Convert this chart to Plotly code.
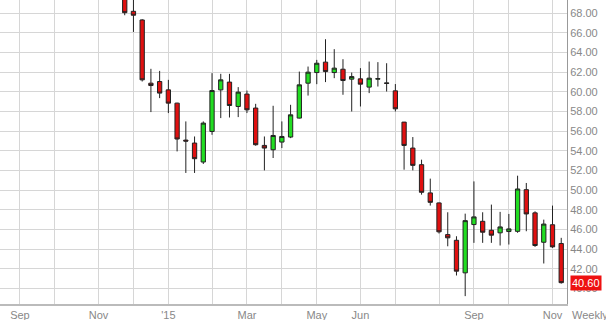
import plotly.graph_objects as go

weeks = [
    "2014-11-24", "2014-12-01", "2014-12-08", "2014-12-15", "2014-12-22", "2014-12-29",
    "2015-01-05", "2015-01-12", "2015-01-19", "2015-01-26", "2015-02-02", "2015-02-09",
    "2015-02-16", "2015-02-23", "2015-03-02", "2015-03-09", "2015-03-16", "2015-03-23",
    "2015-03-30", "2015-04-06", "2015-04-13", "2015-04-20", "2015-04-27", "2015-05-04",
    "2015-05-11", "2015-05-18", "2015-05-25", "2015-06-01", "2015-06-08", "2015-06-15",
    "2015-06-22", "2015-06-29", "2015-07-06", "2015-07-13", "2015-07-20", "2015-07-27",
    "2015-08-03", "2015-08-10", "2015-08-17", "2015-08-24", "2015-08-31", "2015-09-07",
    "2015-09-14", "2015-09-21", "2015-09-28", "2015-10-05", "2015-10-12", "2015-10-19",
    "2015-10-26", "2015-11-02", "2015-11-09",
]
open_ = [75.8, 68.2, 67.32, 60.89, 61.06, 60.21, 58.86, 55.1, 54.8, 52.87, 55.98, 60.21,
         61.0, 58.52, 59.78, 58.36, 54.56, 54.12, 54.9, 55.41, 57.34, 60.89, 61.97, 63.03,
         61.97, 62.31, 61.3, 61.33, 60.49, 61.3, 60.92, 60.11, 56.93, 54.29, 52.6, 49.73,
         48.71, 45.49, 44.91, 41.6, 46.51, 46.84, 45.93, 45.67, 45.8, 45.82, 50.06, 47.7,
         44.71, 46.49, 44.58]
high = [76.2, 70.2, 67.4, 62.35, 62.14, 61.23, 58.9, 57.0, 55.47, 57.0, 61.91, 61.84,
        61.84, 60.49, 60.14, 58.79, 55.47, 58.59, 57.0, 58.69, 62.07, 62.58, 63.26, 65.36,
        64.35, 63.33, 61.97, 62.42, 63.09, 63.03, 62.92, 60.8, 56.95, 55.41, 53.11, 51.18,
        48.75, 47.76, 45.32, 47.62, 50.9, 47.76, 48.54, 47.8, 47.59, 51.48, 50.74, 47.86,
        47.01, 48.44, 45.16]
low = [67.8, 66.1, 61.06, 57.95, 59.37, 57.85, 53.95, 51.76, 51.76, 52.67, 55.64, 57.34,
       57.4, 57.44, 57.85, 54.53, 52.02, 53.28, 54.29, 55.3, 57.3, 59.63, 60.79, 61.0,
       61.4, 59.71, 58.01, 58.52, 59.88, 60.55, 60.04, 58.01, 52.09, 52.02, 49.55, 48.44,
       45.6, 44.3, 41.33, 39.23, 44.65, 44.65, 44.65, 44.38, 44.48, 45.67, 45.83, 44.24,
       42.55, 44.14, 40.5]
close = [68.06, 67.8, 61.23, 60.65, 59.88, 58.86, 55.21, 55.0, 53.21, 56.83, 60.14, 61.23,
         58.62, 59.98, 58.18, 54.63, 54.29, 55.57, 55.47, 57.67, 60.72, 62.01, 62.92, 62.07,
         62.42, 61.16, 61.56, 60.79, 61.4, 61.35, 60.87, 58.28, 54.56, 52.53, 49.79, 48.77,
         45.77, 45.16, 41.77, 46.91, 47.29, 45.73, 45.43, 46.27, 46.07, 50.13, 47.59, 44.38,
         46.56, 44.24, 40.6]

month_ticks = ["2014-09-01", "2014-09-29", "2014-11-03", "2014-12-01", "2014-12-29",
               "2015-02-02", "2015-03-02", "2015-03-30", "2015-04-27", "2015-06-01",
               "2015-06-29", "2015-08-03", "2015-08-31", "2015-09-28", "2015-11-02"]
month_labels = ["Sep", "", "Nov", "", "'15", "", "Mar", "", "May", "Jun",
                "", "", "Sep", "", "Nov"]
price_ticks = [40, 42, 44, 46, 48, 50, 52, 54, 56, 58, 60, 62, 64, 66, 68]
last_price = close[-1]

fig = go.Figure(go.Candlestick(
    x=weeks, open=open_, high=high, low=low, close=close,
    increasing=dict(fillcolor="#22dd22", line=dict(color="#222222", width=1)),
    decreasing=dict(fillcolor="#e01010", line=dict(color="#222222", width=1)),
    whiskerwidth=0,
))

fig.update_layout(
    width=606, height=320,
    margin=dict(l=0, r=39, t=0, b=16),
    paper_bgcolor="white", plot_bgcolor="white",
    showlegend=False,
    boxgap=0.3,
    font=dict(family="Liberation Sans, Arial, sans-serif", size=11, color="#888888"),
    xaxis=dict(
        type="date",
        range=["2014-08-16", "2015-11-13 15:00"],
        rangeslider=dict(visible=False),
        tickmode="array", tickvals=month_ticks, ticktext=month_labels,
        showgrid=True, gridcolor="#d6d6d6", gridwidth=1,
        showline=True, linecolor="#bbbbbb", linewidth=2,
        ticks="", tickfont=dict(size=11, color="#888888"),
        zeroline=False,
    ),
    yaxis=dict(
        side="right",
        range=[38.43, 69.35],
        tickmode="array", tickvals=price_ticks,
        ticktext=[f"{v:.2f}" for v in price_ticks],
        showgrid=True, gridcolor="#d6d6d6", gridwidth=1,
        showline=True, linecolor="#999999", linewidth=1,
        ticks="", tickfont=dict(size=11, color="#888888"),
        zeroline=False,
    ),
    annotations=[
        dict(x=1, xref="paper", xanchor="left", xshift=3,
             y=last_price, yref="y", yanchor="middle",
             text=f"{last_price:.2f}", showarrow=False,
             bgcolor="#ee1111", borderpad=1,
             font=dict(size=11, color="white")),
        dict(x=1, xref="paper", xanchor="left", xshift=3,
             y=0, yref="paper", yanchor="top", yshift=-3,
             text="Weekly", showarrow=False,
             font=dict(size=11, color="#888888")),
    ],
)

fig.write_html("out.html")
